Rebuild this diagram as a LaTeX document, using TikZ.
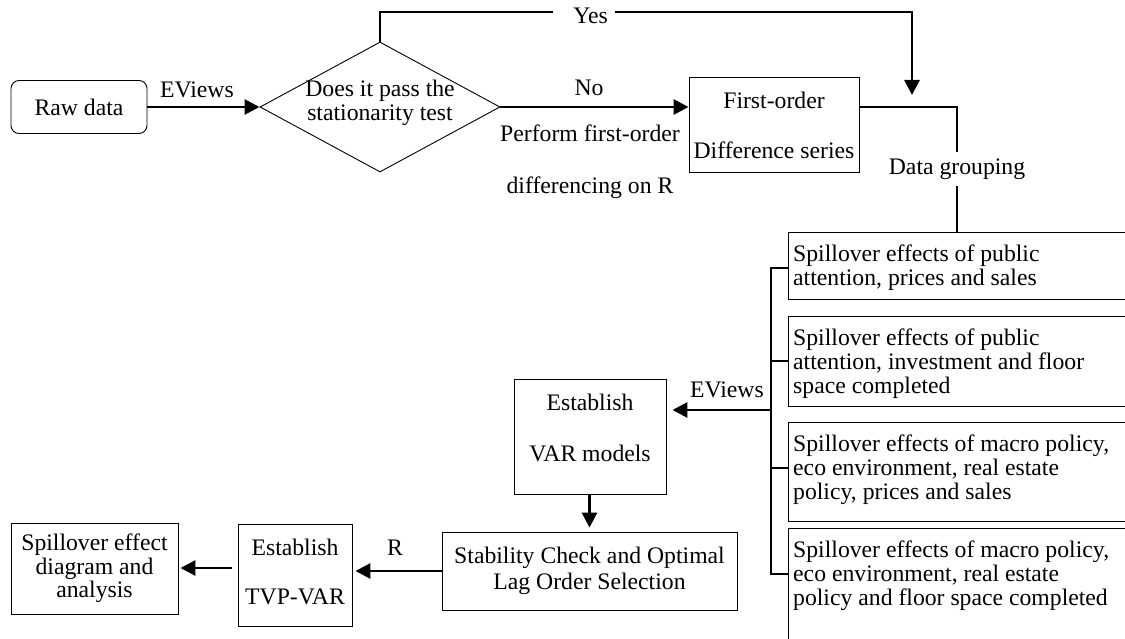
\documentclass[tikz,border=0pt]{standalone}
\usepackage{fontspec}
\setmainfont{Liberation Serif}
\usetikzlibrary{arrows.meta,shapes.geometric}
\begin{document}
\begin{tikzpicture}[x=1pt,y=-1pt,
  font=\fontsize{23.7}{24}\selectfont,
  box/.style={draw, line width=0.9pt, inner sep=0pt},
  txt/.style={inner sep=0pt, align=center},
  ltxt/.style={inner sep=0pt, align=left, anchor=north west},
  arr/.style={line width=2.8pt, -{Triangle[length=15pt,width=15pt]}},
  ln/.style={line width=1.6pt},
  tln/.style={line width=1.2pt}]
\useasboundingbox (0,0) rectangle (1125,639);
\clip (0,0) rectangle (1125,639);

% top row
\node[box, rounded corners=8pt, minimum width=136pt, minimum height=53pt] (raw) at (79,107) {Raw data};
\node[txt] (ev1) at (197,90) {EViews};
\node[box, diamond, minimum width=240pt, minimum height=130pt] (dia) at (380,107) {};
\node[txt] (diat) at (380,103) {Does it pass the\\stationarity test};
\node[txt] (yes) at (590.5,16) {Yes};
\coordinate (yl) at (553,12);
\coordinate (yr) at (615,12);
\coordinate (ytip) at (912,95);
\node[txt] (no) at (589,88) {No};
\node[txt] (perf) at (590,133) {Perform first-order};
\node[txt] (diff) at (590,188) {differencing on R};
\node[box, minimum width=170pt, minimum height=95pt] (fo) at (774,124.5) {};
\node[txt] (fot1) at (774,100) {First-order};
\node[txt] (fot2) at (774,150) {Difference series};
\node[txt, inner sep=0pt, minimum height=34pt] (dg) at (957,169) {Data grouping};

% right boxes
\node[box, minimum width=352pt, minimum height=67pt] (b1) at (964,265.5) {};
\node[box, minimum width=352pt, minimum height=90pt] (b2) at (964,361) {};
\node[box, minimum width=352pt, minimum height=99pt] (b3) at (964,471.5) {};
\node[box, minimum width=352pt, minimum height=132pt] (b4) at (964,594) {};
\node[ltxt] (b1t) at (793,244.5) {Spillover effects of public\\attention, prices and sales};
\node[ltxt] (b2t) at (793,328.5) {Spillover effects of public\\attention, investment and floor\\space completed};
\node[ltxt] (b3t) at (793,434.5) {Spillover effects of macro policy,\\eco environment, real estate\\policy, prices and sales};
\node[ltxt] (b4t) at (793,540.5) {Spillover effects of macro policy,\\eco environment, real estate\\policy and floor space completed};
\coordinate (bt) at (771,268);
\coordinate (bb) at (771,574);
\coordinate (bm) at (771,410);

% lower part
\node[box, minimum width=152pt, minimum height=115pt] (var) at (590,436.5) {};
\node[txt] (vart1) at (590,402) {Establish};
\node[txt] (vart2) at (590,453) {VAR models};
\node[txt] (ev2) at (727,390) {EViews};
\node[box, minimum width=295pt, minimum height=78pt, align=center, font=\fontsize{23.7}{26}\selectfont] (st) at (589.5,571) {Stability Check and Optimal\\Lag Order Selection};
\node[txt] (r) at (395,548) {R};
\node[box, minimum width=114pt, minimum height=102pt] (tvp) at (295,575) {};
\node[txt] (tvpt1) at (295,547) {Establish};
\node[txt] (tvpt2) at (295,597) {TVP-VAR};
\node[box, minimum width=167pt, minimum height=91pt, align=center, font=\fontsize{23.7}{23.5}\selectfont] (sp) at (94.5,568.5) {Spillover effect\\diagram and\\analysis};

% connectors
\draw[arr] (raw.east) -- (dia.west);
\draw[ln] (dia.north) |- (yl);
\draw[arr] (yr) -| (ytip);
\draw[arr] (dia.east) -- (dia.east -| fo.west);
\draw[tln] (fo.east |- raw) -| (dg.north);
\draw[tln] (dg.south) -- (dg.south |- b1.north);
\draw[ln] (b1.west |- bt) -- (bt) -- (bb) -- (b4.west |- bb);
\draw[ln] (b2.west) -- (b2.west -| bt);
\draw[ln] (b3.west |- 0,468) -- (bt |- 0,468);
\draw[arr, shorten >=6pt] (bm) -- (bm -| var.east);
\draw[arr, shorten >=4pt] (var.south -| st.north) -- (st.north);
\draw[arr, shorten >=3pt] (st.west) -- (st.west -| tvp.east);
\draw[arr, shorten <=6pt, shorten >=2pt] (tvp.west |- 0,568) -- (sp.east |- 0,568);
\end{tikzpicture}
\end{document}
